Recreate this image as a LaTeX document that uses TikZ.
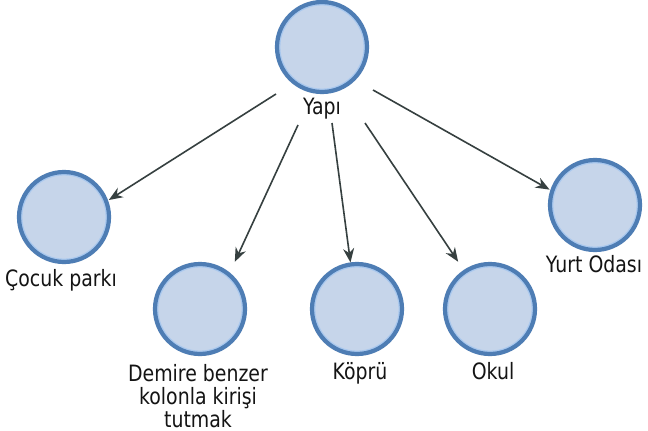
\documentclass[tikz,border=0pt]{standalone}
\usepackage{fontspec}
\setmainfont{DejaVu Sans}
\newfontfamily\capfont[FakeStretch=0.84]{DejaVu Sans}
\usetikzlibrary{arrows.meta}
\definecolor{ringdark}{HTML}{4E7DB4}
\definecolor{ringlight}{HTML}{A9C8EE}
\definecolor{bubble}{HTML}{C6D5EA}
\definecolor{linkgray}{HTML}{364040}
\definecolor{txt}{HTML}{141414}
\begin{document}
\begin{tikzpicture}[x=1pt,y=-1pt,
  bubble/.style={circle, draw=ringdark, line width=4.2pt, fill=bubble,
    minimum size=90pt, inner sep=0pt, outer sep=0pt,
    path picture={\draw[ringlight, line width=1.6pt]
      (path picture bounding box.center) circle (42.4pt);}},
  caption/.style={font=\capfont\fontsize{22.5}{23}\selectfont, text=txt,
    inner sep=0pt, align=center},
  link/.style={draw=linkgray, line width=1.6pt,
    -{Stealth[length=14pt,width=11pt,inset=4.5pt]}}]
  \fill[white] (0,0) rectangle (648,431);
  \useasboundingbox (0,0) rectangle (648,431);

  % circles
  \node[bubble] (yapi)   at (322,47)  {};
  \node[bubble] (cocuk)  at (64,217)  {};
  \node[bubble] (demire) at (200,309) {};
  \node[bubble] (kopru)  at (357,309) {};
  \node[bubble] (okul)   at (490,309) {};
  \node[bubble] (yurt)   at (595,205) {};

  % captions (a multi-line caption sits on the baseline of its last line)
  \node[caption, anchor=base] (yapiL)   at (322,114) {Yapı};
  \node[caption, anchor=base] (cocukL)  at (61,286)  {Çocuk parkı};
  \node[caption, anchor=base] (kopruL)  at (360,379) {Köprü};
  \node[caption, anchor=base] (okulL)   at (493,379) {Okul};
  \node[caption, anchor=base] (yurtL)   at (594,272) {Yurt Odası};
  \node[caption, anchor=base] (demireL) at (198,427) {Demire benzer\\kolonla kirişi\\tutmak};

  % arrow tails
  \coordinate (s1) at (276,94);
  \coordinate (s2) at (298,125);
  \coordinate (s3) at (332,123);
  \coordinate (s4) at (365,123);
  \coordinate (s5) at (373,90);

  % links
  \draw[link, shorten >=3pt]  (s1) -- (cocuk.20);
  \draw[link, shorten >=14pt] (s2) -- (demire.50);
  \draw[link, shorten >=2pt]  (s3) -- (kopru.98);
  \draw[link, shorten >=12pt] (s4) -- (okul.124);
  \draw[link, shorten >=3pt]  (s5) -- (yurt.162);
\end{tikzpicture}
\end{document}
